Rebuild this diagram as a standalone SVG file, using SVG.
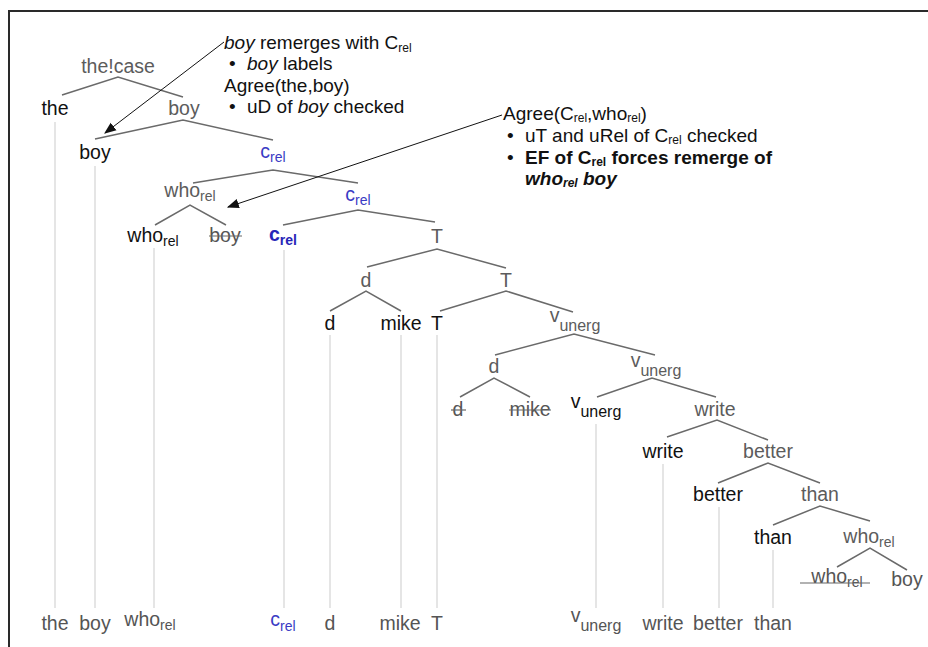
<svg xmlns="http://www.w3.org/2000/svg" width="928" height="647" viewBox="0 0 928 647">
<defs>
<style>
text{font-family:"Liberation Sans",Arial,Helvetica,sans-serif;font-size:19.5px}
.n{fill:#5c5c5c;text-anchor:middle}
.l{fill:#111;text-anchor:middle}
.s{fill:#555;text-anchor:middle}
.b{fill:#555;text-anchor:middle}
.bl{fill:#3a3ac4;text-anchor:middle}
.blb{fill:#2626b8;text-anchor:middle;font-weight:bold}
.sub{font-size:14px}
.vsub{font-size:16px}
.a{fill:#111;font-size:19px}
.asub{font-size:12px}
.br{stroke:#6a6a6a;stroke-width:1.5;fill:none}
.vl{stroke:#dcdcdc;stroke-width:1.5;fill:none}
.st{stroke:#666;stroke-width:1.2}
.ar{stroke:#111;stroke-width:1;fill:none}
</style>
<marker id="ah" viewBox="0 0 10 10" refX="9" refY="5" markerWidth="12" markerHeight="12" markerUnits="userSpaceOnUse" orient="auto">
<path d="M0,1 L10,5 L0,9 z" fill="#111"/>
</marker>
</defs>
<rect width="928" height="647" fill="#fff"/>
<path d="M9,647 V11 H928" fill="none" stroke="#2a2a2a" stroke-width="2"/>

<g id="connectors">
<g class="vl">
<path d="M55,122 V608"/>
<path d="M95,166 V608"/>
<path d="M154,248 V608"/>
<path d="M284,250 V608"/>
<path d="M330,335 V608"/>
<path d="M401,335 V608"/>
<path d="M437,335 V608"/>
<path d="M596,424 V608"/>
<path d="M663,464 V608"/>
<path d="M719,507 V608"/>
<path d="M773,550 V608"/>
</g>
<g class="br">
<path d="M62,95 L118,77 L183,97"/>
<path d="M95,139 L183,120 L273,140"/>
<path d="M193,183 L273,170 L358,183"/>
<path d="M155,225 L190,205 L226,225"/>
<path d="M283,225 L358,210 L435,222"/>
<path d="M367,267 L437,249 L506,268"/>
<path d="M330,311 L366,291 L401,311"/>
<path d="M440,311 L506,291 L573,312"/>
<path d="M495,355 L574,334 L655,355"/>
<path d="M460,397 L494,378 L530,397"/>
<path d="M597,397 L652,378 L716,397"/>
<path d="M667,437 L717,420 L768,440"/>
<path d="M718,483 L768,463 L820,483"/>
<path d="M773,525 L820,506 L870,521"/>
<path d="M837,567 L870,548 L907,570"/>
</g>
<path class="ar" d="M224,42 L105,133" marker-end="url(#ah)"/>
<path class="ar" d="M502,115 L228,207" marker-end="url(#ah)"/>
</g>

<g id="n-thecase"><text class="n" x="118" y="73">the!case</text></g>
<g id="n-the"><text class="l" x="55" y="115">the</text></g>
<g id="n-boy1"><text class="n" x="184" y="115">boy</text></g>
<g id="n-boy-leaf"><text class="l" x="95" y="159">boy</text></g>
<g id="n-crel1"><text class="bl" x="273" y="158">c<tspan class="sub" dy="4">rel</tspan></text></g>
<g id="n-who1"><text class="n" x="190" y="197">who<tspan class="sub" dy="4">rel</tspan></text></g>
<g id="n-crel2"><text class="bl" x="358" y="201">c<tspan class="sub" dy="4">rel</tspan></text></g>
<g id="n-who-leaf"><text class="l" x="153" y="242">who<tspan class="sub" dy="4">rel</tspan></text></g>
<g id="n-boy-struck"><text class="s" x="225" y="242">boy</text><line class="st" x1="209" y1="236" x2="242" y2="236"/></g>
<g id="n-crel-leaf"><text class="blb" x="283" y="241">c<tspan class="sub" dy="4">rel</tspan></text></g>
<g id="n-T1"><text class="n" x="437" y="243">T</text></g>
<g id="n-d1"><text class="n" x="366" y="287">d</text></g>
<g id="n-T2"><text class="n" x="506" y="287">T</text></g>
<g id="n-d-leaf"><text class="l" x="330" y="330">d</text></g>
<g id="n-mike-leaf"><text class="l" x="401" y="330">mike</text></g>
<g id="n-T-leaf"><text class="l" x="437" y="330">T</text></g>
<g id="n-v1"><text class="n" x="575" y="322">v<tspan class="vsub" dy="9">unerg</tspan></text></g>
<g id="n-d2"><text class="n" x="494" y="373">d</text></g>
<g id="n-v2"><text class="n" x="656" y="367">v<tspan class="vsub" dy="9">unerg</tspan></text></g>
<g id="n-d-struck"><text class="s" x="458" y="416">d</text><line class="st" x1="451" y1="410" x2="466" y2="410"/></g>
<g id="n-mike-struck"><text class="s" x="530" y="416">mike</text><line class="st" x1="509" y1="410" x2="551" y2="410"/></g>
<g id="n-v-leaf"><text class="l" x="596" y="408">v<tspan class="vsub" dy="9">unerg</tspan></text></g>
<g id="n-write1"><text class="n" x="715" y="416">write</text></g>
<g id="n-write-leaf"><text class="l" x="663" y="458">write</text></g>
<g id="n-better1"><text class="n" x="768" y="458">better</text></g>
<g id="n-better-leaf"><text class="l" x="718" y="501">better</text></g>
<g id="n-than1"><text class="n" x="820" y="501">than</text></g>
<g id="n-than-leaf"><text class="l" x="773" y="544">than</text></g>
<g id="n-who2"><text class="n" x="869" y="543">who<tspan class="sub" dy="4">rel</tspan></text></g>
<g id="n-who-struck"><text class="s" x="837" y="583">who<tspan class="sub" dy="4">rel</tspan></text><line class="st" x1="800" y1="583" x2="870" y2="583"/></g>
<g id="n-boy-end"><text class="s" x="907" y="586">boy</text></g>

<g id="bottom-row">
<text class="b" x="55" y="630">the</text>
<text class="b" x="95" y="630">boy</text>
<text class="b" x="150" y="626">who<tspan class="sub" dy="4">rel</tspan></text>
<text class="bl" x="283" y="626">c<tspan class="sub" dy="5">rel</tspan></text>
<text class="b" x="330" y="630">d</text>
<text class="b" x="400" y="630">mike</text>
<text class="b" x="437" y="630">T</text>
<text class="b" x="596" y="622">v<tspan class="vsub" dy="9">unerg</tspan></text>
<text class="b" x="663" y="630">write</text>
<text class="b" x="718" y="630">better</text>
<text class="b" x="773" y="630">than</text>
</g>

<g id="note1">
<text class="a" x="224" y="49"><tspan font-style="italic">boy</tspan> remerges with C<tspan class="asub" dy="3">rel</tspan></text>
<text class="a" x="229" y="70">•</text>
<text class="a" x="247" y="70"><tspan font-style="italic">boy</tspan> labels</text>
<text class="a" x="224" y="92">Agree(the,boy)</text>
<text class="a" x="229" y="113">•</text>
<text class="a" x="247" y="113">uD of <tspan font-style="italic">boy</tspan> checked</text>
</g>

<g id="note2">
<text class="a" x="503" y="120">Agree(C<tspan class="asub" dy="2">rel</tspan><tspan dy="-2">,who</tspan><tspan class="asub" dy="2">rel</tspan><tspan dy="-2">)</tspan></text>
<text class="a" x="507" y="141.8">•</text>
<text class="a" x="525" y="141.8">uT and uRel of C<tspan class="asub" dy="2">rel</tspan><tspan dy="-2"> checked</tspan></text>
<text class="a" x="507" y="163.6">•</text>
<text class="a" x="525" y="163.6" font-weight="bold">EF of C<tspan class="asub" dy="2">rel</tspan><tspan dy="-2"> forces remerge of</tspan></text>
<text class="a" x="525" y="185.4" font-weight="bold" font-style="italic">who<tspan class="asub" dy="2">rel</tspan><tspan dy="-2"> boy</tspan></text>
</g>
</svg>
